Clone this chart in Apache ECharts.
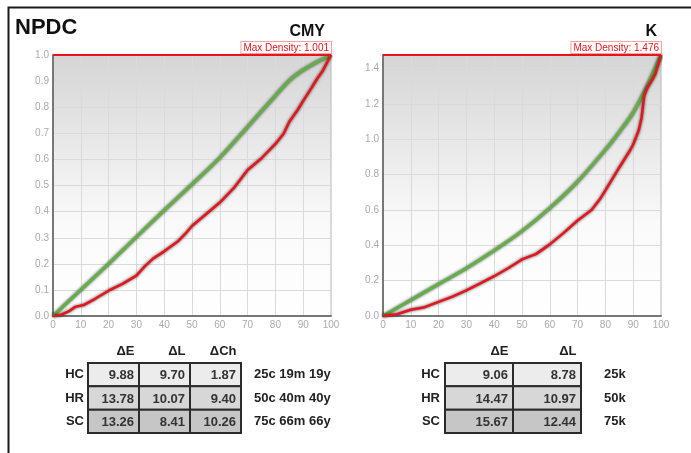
<!DOCTYPE html>
<html>
<head>
<meta charset="utf-8">
<script src="https://cdn.jsdelivr.net/npm/echarts@6/dist/echarts.min.js"></script>
<style>
  html, body { margin: 0; padding: 0; background: #fff; }
  #chart { width: 691px; height: 453px; }
</style>
</head>
<body>
<div id="chart"></div>
<script>
// CMY curve: ideal (green) and measured (red)
const cmyIdealX = [0, 10, 20, 30, 40, 50, 60, 70, 80, 85, 90, 95, 100];
const cmyIdealY = [0, 0.1, 0.2, 0.303, 0.405, 0.505, 0.607, 0.725, 0.845, 0.903, 0.943, 0.974, 1.001];
const cmyMeasX = [0, 3, 6, 8, 11, 15, 20, 25, 30, 33, 36, 40, 45, 48, 50, 55, 60, 65, 70, 75, 80, 83, 85, 88, 90, 93, 95, 97, 100];
const cmyMeasY = [0, 0.005, 0.02, 0.035, 0.042, 0.065, 0.097, 0.123, 0.155, 0.19, 0.22, 0.248, 0.287, 0.32, 0.345, 0.39, 0.435, 0.49, 0.56, 0.605, 0.66, 0.7, 0.745, 0.79, 0.825, 0.875, 0.91, 0.94, 1.001];
const cmyMax = 1.001;

// K curve
const kIdealX = [0, 10, 20, 30, 40, 50, 60, 70, 80, 85, 90, 95, 100];
const kIdealY = [0, 0.09, 0.18, 0.27, 0.37, 0.48, 0.61, 0.76, 0.94, 1.04, 1.15, 1.3, 1.476];
const kMeasX = [0, 5, 10, 15, 20, 25, 30, 35, 40, 45, 48, 50, 55, 60, 65, 70, 75, 78, 80, 85, 89, 90, 92, 93, 94, 95, 97, 98, 100];
const kMeasY = [0, 0.01, 0.035, 0.05, 0.08, 0.11, 0.145, 0.185, 0.225, 0.27, 0.3, 0.32, 0.35, 0.405, 0.47, 0.54, 0.6, 0.66, 0.71, 0.84, 0.94, 0.97, 1.05, 1.12, 1.25, 1.29, 1.34, 1.37, 1.476];
const kMax = 1.476;

// tables
const rowNames = ['HC', 'HR', 'SC'];
const cmyCols = ['ΔE', 'ΔL', 'ΔCh'];
const cmyPatches = ['25c 19m 19y', '50c 40m 40y', '75c 66m 66y'];
const cmyDelta = [[9.88, 9.70, 1.87], [13.78, 10.07, 9.40], [13.26, 8.41, 10.26]];
const kCols = ['ΔE', 'ΔL'];
const kPatches = ['25k', '50k', '75k'];
const kDelta = [[9.06, 8.78], [14.47, 10.97], [15.67, 12.44]];

const FONT = 'Liberation Sans, Arial, sans-serif';
const GREEN = '#62b043';
const RED = '#e8141b';
const rowFills = ['#ececec', '#d7d7d7', '#c6c6c6'];

const zip = (xs, ys) => xs.map((x, i) => [x, ys[i]]);
const cells = rows => {
  let out = [];
  rows.forEach((r, ri) => r.forEach((v, ci) => out.push([ci, ri, v])));
  return out;
};
const tickFmt = step => v => {
  let k = v / step;
  return Math.abs(k - Math.round(k)) < 1e-6 ? v.toFixed(1) : '';
};

function plotBg() {
  return new echarts.graphic.LinearGradient(0, 0, 0, 1, [
    { offset: 0, color: '#d5d5d5' },
    { offset: 0.65, color: '#fafafa' },
    { offset: 1, color: '#ffffff' }
  ]);
}

function valueX(gi) {
  return {
    gridIndex: gi, type: 'value', min: 0, max: 100, interval: 10,
    axisLine: { show: true, lineStyle: { color: '#777', width: 2 } },
    axisTick: { show: false },
    axisLabel: { color: '#aaa', fontSize: 10, fontFamily: FONT, margin: 4 },
    splitLine: { show: true, lineStyle: { color: '#dadada' } }
  };
}
function valueY(gi, max, step) {
  return {
    gridIndex: gi, type: 'value', min: 0, max: max, interval: step,
    axisLine: { show: true, lineStyle: { color: '#777', width: 2 } },
    axisTick: { show: false },
    axisLabel: { color: '#aaa', fontSize: 10, fontFamily: FONT, margin: 4, formatter: tickFmt(step) },
    splitLine: { show: true, lineStyle: { color: '#dadada' } }
  };
}
function headX(gi, cols, w) {
  return {
    gridIndex: gi, type: 'category', data: cols, position: 'top',
    axisLine: { show: false }, axisTick: { show: false }, splitLine: { show: false },
    axisLabel: {
      interval: 0, margin: 5, formatter: v => '{h|' + v + '}',
      rich: { h: { width: w, align: 'right', fontSize: 13, fontWeight: 'bold', fontFamily: FONT, color: '#222' } }
    }
  };
}
function rowY(gi, names, pos, margin) {
  return {
    gridIndex: gi, type: 'category', data: names, inverse: true, position: pos,
    axisLine: { show: false }, axisTick: { show: false }, splitLine: { show: false },
    axisLabel: { interval: 0, margin: margin, fontSize: 13, fontWeight: 'bold', fontFamily: FONT, color: '#222' }
  };
}

function curve(name, xi, data, color, width, smooth) {
  return {
    name: name, type: 'line', xAxisIndex: xi, yAxisIndex: xi, data: data,
    showSymbol: false, smooth: smooth, clip: false,
    lineStyle: { color: color, width: width, shadowColor: 'rgba(0,0,0,0.75)', shadowBlur: 3 },
    z: 3
  };
}
function maxLine(max) {
  return {
    silent: true, symbol: ['none', 'none'],
    lineStyle: { color: RED, width: 2, type: 'solid', shadowBlur: 0 },
    label: {
      show: true, position: 'insideEndTop', distance: [0, 2],
      formatter: 'Max Density: ' + max.toFixed(3),
      color: RED, fontSize: 10, fontFamily: FONT,
      backgroundColor: '#fff', borderColor: '#f2a5a5', borderWidth: 1, padding: [1, 2, 0, 2]
    },
    data: [[{ xAxis: 0, yAxis: max }, { xAxis: 100, yAxis: max }]]
  };
}

function cellRenderer(params, api) {
  let col = api.value(0), row = api.value(1);
  let c = api.coord([col, row]);
  let s = api.size([1, 1]);
  return {
    type: 'group',
    children: [
      {
        type: 'rect',
        shape: { x: c[0] - s[0] / 2, y: c[1] - s[1] / 2, width: s[0], height: s[1] },
        style: { fill: rowFills[row], stroke: '#2b2b2b', lineWidth: 2 }
      },
      {
        type: 'text', x: c[0] + s[0] / 2 - 5, y: c[1] + 1,
        style: {
          text: api.value(2).toFixed(2), align: 'right', verticalAlign: 'middle',
          fontSize: 13, fontWeight: 'bold', fontFamily: FONT, fill: '#333'
        }
      }
    ]
  };
}

let chart = echarts.init(document.getElementById('chart'));
let cmyMeasured = curve('CMY measured', 0, zip(cmyMeasX, cmyMeasY), RED, 2.5, false);
cmyMeasured.markLine = maxLine(cmyMax);
let kMeasured = curve('K measured', 1, zip(kMeasX, kMeasY), RED, 2.5, false);
kMeasured.markLine = maxLine(kMax);

chart.setOption({
  animation: false,
  textStyle: { fontFamily: FONT },
  title: [
    { text: 'NPDC', left: 15, top: 17, padding: 0, textStyle: { fontSize: 22, fontWeight: 'bold', color: '#111', fontFamily: FONT } },
    { text: 'CMY', right: 366, top: 24, padding: 0, textStyle: { fontSize: 16, fontWeight: 'bold', color: '#111', fontFamily: FONT } },
    { text: 'K', right: 34, top: 24, padding: 0, textStyle: { fontSize: 16, fontWeight: 'bold', color: '#111', fontFamily: FONT } }
  ],
  graphic: [{
    type: 'rect', left: 6, top: 5, z: -10, silent: true,
    shape: { width: 720, height: 480 },
    style: { fill: 'none', stroke: '#1a1a1a', lineWidth: 2 }
  }],
  grid: [
    { left: 53, right: 360, top: 55, bottom: 137, show: true, backgroundColor: plotBg(), borderColor: '#bbb', borderWidth: 1 },
    { left: 383, right: 30, top: 55, bottom: 137, show: true, backgroundColor: plotBg(), borderColor: '#bbb', borderWidth: 1 },
    { left: 88, right: 450, top: 363, bottom: 20 },
    { left: 445, right: 110, top: 363, bottom: 20 }
  ],
  xAxis: [valueX(0), valueX(1), headX(2, cmyCols, 42), headX(3, kCols, 59)],
  yAxis: [
    valueY(0, cmyMax, 0.1),
    valueY(1, kMax, 0.2),
    rowY(2, rowNames, 'left', 4),
    rowY(2, cmyPatches, 'right', 13),
    rowY(3, rowNames, 'left', 5),
    rowY(3, kPatches, 'right', 23)
  ],
  series: [
    curve('CMY ideal', 0, zip(cmyIdealX, cmyIdealY), GREEN, 3, 0.3),
    cmyMeasured,
    curve('K ideal', 1, zip(kIdealX, kIdealY), GREEN, 3, 0.3),
    kMeasured,
    { type: 'custom', xAxisIndex: 2, yAxisIndex: 2, renderItem: cellRenderer, data: cells(cmyDelta), silent: true },
    { type: 'custom', xAxisIndex: 3, yAxisIndex: 4, renderItem: cellRenderer, data: cells(kDelta), silent: true }
  ]
});
</script>
</body>
</html>
